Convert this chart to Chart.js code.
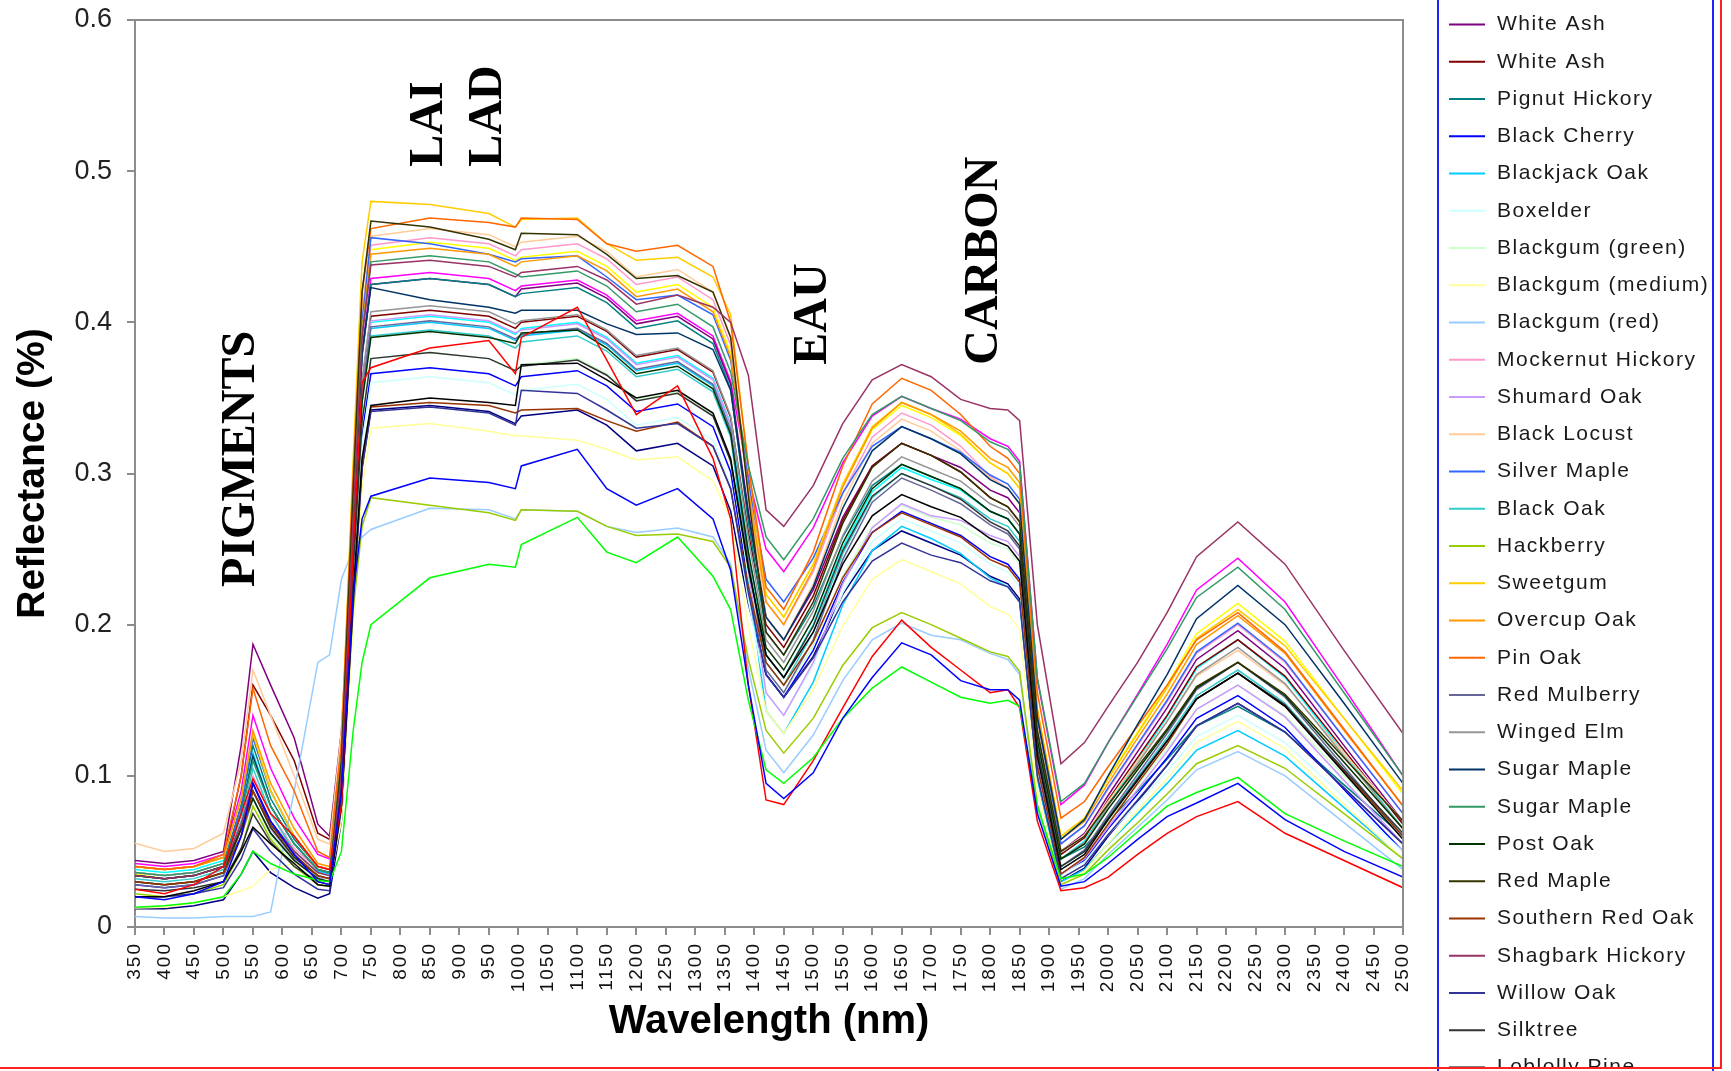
<!DOCTYPE html>
<html>
<head>
<meta charset="utf-8">
<script src="https://cdn.jsdelivr.net/npm/chart.js@4.4.0/dist/chart.umd.min.js"></script>
<style>
  html, body { margin: 0; padding: 0; background: #fff; }
  #wrap { width: 1731px; height: 1071px; }
</style>
</head>
<body>
<div id="wrap"><canvas id="myChart" width="1731" height="1071"></canvas></div>
<script>
const wavelengths = [350, 400, 450, 500, 530, 550, 580, 620, 660, 680,
  700, 720, 735, 750, 850, 950, 995, 1005, 1100, 1150,
  1200, 1270, 1330, 1360, 1390, 1420, 1450, 1500, 1550, 1600, 1650,
  1700, 1750, 1800, 1830, 1850, 1880, 1920, 1960, 2000, 2050,
  2100, 2150, 2220, 2300, 2400, 2500];

const xTicks = {min: 350, max: 2500, step: 50};
const yTicks = {min: 0, max: 0.6, step: 0.1};

// reflectance curves, one per legend entry (entries above / below the visible legend have no readable name)
const hiddenNavy = [.012,.012,.014,.018,.035,.05,.036,.026,.019,.022,
  .07,.214,.304,.342,.345,.341,.333,.338,.342,.332,
  .315,.32,.305,.275,.214,.167,.152,.179,.22,.249,.262,
  .254,.246,.232,.227,.217,.099,.03,.039,.06,.083,
  .107,.133,.148,.129,.092,.055];
const hiddenMagenta = [.042,.04,.042,.048,.09,.14,.105,.072,.048,.045,
  .11,.268,.381,.429,.433,.429,.421,.424,.428,.418,
  .401,.406,.391,.361,.298,.25,.235,.264,.307,.338,.351,
  .343,.336,.323,.318,.308,.164,.081,.094,.122,.154,
  .187,.223,.244,.215,.158,.10];
const hiddenYellow = [.035,.032,.034,.04,.08,.125,.09,.06,.04,.038,
  .10,.281,.399,.448,.453,.449,.441,.443,.447,.437,
  .42,.425,.41,.38,.293,.22,.205,.24,.292,.329,.345,
  .337,.325,.307,.30,.29,.144,.06,.072,.099,.129,
  .16,.194,.214,.189,.138,.088];
const hiddenCyan = [.038,.036,.038,.044,.075,.11,.08,.055,.038,.036,
  .10,.25,.356,.40,.404,.40,.392,.396,.40,.39,
  .373,.378,.363,.333,.249,.18,.165,.20,.251,.288,.304,
  .296,.289,.275,.27,.26,.124,.045,.057,.081,.11,
  .139,.171,.19,.165,.115,.065];
const whiteAsh1 = [.044,.042,.044,.05,.12,.187,.16,.125,.068,.06,
  .13,.266,.378,.425,.429,.425,.417,.422,.426,.416,
  .399,.404,.389,.359,.275,.205,.19,.223,.271,.305,.32,
  .312,.304,.289,.284,.274,.132,.05,.062,.087,.116,
  .145,.177,.196,.171,.12,.07];
const whiteAsh2 = [.04,.038,.04,.046,.10,.16,.14,.11,.062,.058,
  .12,.253,.359,.404,.408,.404,.396,.40,.404,.394,
  .377,.382,.367,.337,.261,.20,.185,.219,.269,.305,.32,
  .312,.301,.284,.278,.268,.129,.048,.059,.084,.112,
  .14,.172,.19,.166,.117,.068];
const pignutHickory = [.036,.034,.036,.042,.08,.12,.085,.058,.04,.038,
  .10,.266,.378,.425,.429,.425,.417,.419,.423,.413,
  .396,.401,.386,.356,.268,.195,.18,.212,.258,.292,.306,
  .298,.29,.275,.27,.26,.124,.045,.053,.07,.09,
  .111,.133,.146,.129,.094,.06];
const blackCherry = [.028,.026,.028,.034,.065,.095,.068,.048,.033,.032,
  .09,.229,.326,.366,.37,.366,.358,.364,.368,.358,
  .341,.346,.331,.301,.227,.167,.152,.183,.228,.261,.275,
  .267,.259,.245,.24,.23,.107,.035,.044,.065,.088,
  .112,.138,.153,.132,.091,.05];
const blackjackOak = [.034,.032,.034,.04,.075,.115,.08,.055,.037,.035,
  .09,.248,.352,.396,.40,.396,.388,.391,.395,.385,
  .368,.373,.358,.328,.228,.143,.128,.162,.213,.249,.265,
  .257,.247,.231,.225,.215,.098,.03,.038,.055,.075,
  .095,.117,.13,.113,.079,.045];
const boxelder = [.03,.028,.03,.036,.065,.09,.065,.045,.032,.03,
  .09,.226,.32,.36,.364,.36,.352,.355,.359,.349,
  .332,.337,.322,.292,.216,.155,.14,.173,.221,.255,.27,
  .262,.254,.24,.235,.225,.105,.035,.043,.061,.082,
  .103,.126,.14,.122,.086,.05];
const blackgumGreen = [.03,.028,.03,.035,.06,.085,.06,.042,.03,.03,
  .09,.236,.334,.376,.38,.376,.368,.372,.376,.366,
  .349,.354,.339,.309,.232,.17,.155,.186,.232,.265,.279,
  .271,.266,.254,.25,.24,.114,.04,.05,.07,.094,
  .118,.144,.16,.14,.10,.06];
const blackgumMedium = [.0125,.013,.016,.02,.024,.027,.038,.042,.035,.03,
  .07,.20,.29,.33,.333,.328,.325,.325,.322,.316,
  .309,.311,.295,.27,.199,.143,.128,.157,.199,.23,.243,
  .235,.227,.212,.207,.197,.091,.028,.037,.055,.077,
  .098,.122,.136,.118,.081,.045];
const blackgumRed = [.007,.006,.006,.007,.007,.007,.01,.09,.175,.18,
  .23,.25,.258,.263,.277,.276,.27,.276,.275,.265,
  .261,.264,.258,.24,.171,.117,.102,.127,.163,.19,.201,
  .193,.19,.181,.177,.167,.078,.025,.032,.048,.066,
  .084,.104,.116,.10,.069,.038];
const mockernutHickory = [.036,.034,.036,.042,.07,.10,.075,.052,.038,.036,
  .11,.283,.401,.451,.456,.452,.444,.448,.452,.442,
  .425,.43,.415,.385,.293,.215,.20,.235,.287,.324,.34,
  .332,.318,.298,.29,.28,.137,.055,.067,.091,.12,
  .149,.181,.20,.175,.125,.075];
const shumardOak = [.03,.028,.03,.036,.06,.09,.065,.045,.033,.032,
  .09,.251,.356,.401,.405,.401,.393,.395,.399,.389,
  .372,.377,.362,.332,.236,.155,.14,.175,.227,.264,.28,
  .272,.269,.259,.255,.245,.112,.035,.045,.066,.091,
  .116,.144,.16,.139,.097,.055];
const blackLocust = [.0555,.05,.052,.062,.11,.17,.14,.10,.058,.055,
  .13,.286,.407,.457,.462,.458,.45,.453,.457,.447,
  .43,.435,.42,.39,.29,.205,.19,.227,.281,.32,.336,
  .328,.315,.297,.29,.28,.134,.05,.061,.083,.11,
  .136,.166,.183,.16,.115,.07];
const silverMaple = [.034,.032,.034,.04,.08,.125,.09,.06,.04,.038,
  .11,.28,.40,.456,.452,.445,.44,.442,.444,.43,
  .415,.418,.405,.375,.295,.23,.215,.244,.287,.318,.331,
  .323,.314,.299,.293,.283,.138,.055,.067,.092,.121,
  .15,.182,.201,.176,.125,.075];
const blackOak = [.032,.03,.032,.038,.07,.105,.075,.05,.036,.034,
  .10,.245,.348,.391,.395,.391,.383,.387,.391,.381,
  .364,.369,.354,.324,.242,.175,.16,.195,.247,.284,.30,
  .292,.284,.27,.265,.255,.119,.04,.05,.073,.099,
  .125,.153,.17,.148,.104,.06];
const hackberry = [.022,.02,.022,.028,.05,.08,.058,.04,.028,.027,
  .09,.21,.265,.284,.279,.274,.269,.276,.275,.265,
  .259,.26,.255,.238,.177,.13,.115,.138,.173,.198,.208,
  .20,.191,.182,.179,.169,.081,.028,.035,.051,.069,
  .088,.108,.12,.105,.075,.045];
const sweetgum = [.04,.038,.04,.046,.085,.128,.09,.06,.04,.038,
  .12,.31,.44,.48,.478,.472,.463,.468,.469,.452,
  .441,.443,.43,.405,.305,.22,.205,.24,.293,.331,.347,
  .339,.326,.307,.30,.29,.144,.06,.072,.098,.128,
  .158,.191,.21,.186,.138,.09];
const overcupOak = [.04,.038,.04,.046,.085,.13,.095,.065,.042,.04,
  .12,.278,.395,.445,.449,.445,.437,.44,.444,.434,
  .417,.422,.407,.377,.289,.215,.20,.237,.291,.33,.347,
  .339,.328,.31,.304,.294,.144,.058,.07,.095,.125,
  .154,.187,.206,.181,.13,.08];
const pinOak = [.04,.038,.04,.048,.10,.158,.12,.09,.05,.046,
  .12,.30,.42,.462,.469,.466,.463,.469,.468,.452,
  .447,.451,.437,.40,.305,.225,.21,.248,.305,.346,.363,
  .355,.339,.318,.31,.30,.155,.072,.083,.106,.133,
  .16,.19,.208,.182,.131,.08];
const redMulberry = [.028,.026,.028,.034,.06,.085,.062,.044,.032,.03,
  .09,.249,.353,.397,.401,.397,.389,.392,.396,.386,
  .369,.374,.359,.329,.242,.17,.155,.19,.243,.281,.297,
  .289,.28,.266,.26,.25,.117,.04,.051,.074,.101,
  .128,.157,.175,.152,.106,.06];
const wingedElm = [.03,.028,.03,.036,.065,.09,.066,.046,.034,.032,
  .10,.255,.362,.407,.411,.407,.399,.401,.405,.395,
  .378,.383,.368,.338,.257,.19,.175,.209,.259,.295,.311,
  .303,.295,.28,.275,.265,.126,.045,.056,.08,.108,
  .136,.167,.185,.161,.113,.065];
const sugarMaple1 = [.034,.032,.034,.04,.075,.113,.08,.055,.038,.036,
  .10,.265,.38,.423,.415,.41,.406,.408,.408,.399,
  .392,.393,.382,.355,.273,.205,.19,.225,.277,.315,.331,
  .323,.313,.296,.29,.28,.139,.058,.071,.10,.134,
  .167,.204,.226,.20,.148,.095];
const sugarMaple2 = [.036,.034,.036,.042,.075,.11,.08,.055,.038,.036,
  .11,.275,.391,.44,.444,.44,.432,.43,.434,.424,
  .407,.412,.397,.367,.305,.258,.243,.27,.31,.339,.351,
  .343,.335,.321,.316,.306,.165,.083,.095,.122,.153,
  .184,.218,.238,.21,.155,.10];
const postOak = [.03,.028,.03,.036,.065,.085,.062,.044,.032,.03,
  .09,.244,.347,.39,.394,.39,.386,.393,.395,.383,
  .366,.371,.356,.326,.248,.185,.17,.204,.254,.29,.306,
  .298,.29,.275,.27,.26,.124,.045,.055,.078,.104,
  .13,.158,.175,.153,.109,.065];
const redMaple = [.034,.032,.034,.04,.065,.09,.066,.046,.034,.032,
  .11,.29,.42,.467,.463,.455,.448,.459,.458,.445,
  .429,.431,.42,.39,.285,.195,.18,.215,.267,.304,.32,
  .312,.301,.284,.278,.268,.13,.05,.06,.081,.106,
  .131,.159,.175,.154,.112,.07];
const southernRedOak = [.03,.028,.03,.036,.06,.09,.068,.048,.034,.032,
  .08,.215,.305,.344,.347,.345,.34,.342,.343,.335,
  .328,.334,.318,.29,.225,.175,.16,.189,.231,.261,.274,
  .266,.258,.243,.238,.228,.106,.035,.046,.068,.095,
  .121,.151,.168,.146,.103,.06];
const shagbarkHickory = [.034,.032,.034,.04,.068,.095,.07,.05,.036,.034,
  .10,.27,.39,.438,.441,.437,.43,.433,.437,.428,
  .412,.418,.41,.40,.365,.276,.265,.292,.333,.362,.372,
  .364,.349,.343,.342,.335,.20,.108,.122,.146,.175,
  .208,.245,.268,.24,.183,.128];
const willowOak = [.02,.02,.022,.026,.045,.065,.05,.035,.025,.024,
  .08,.214,.303,.341,.344,.34,.332,.355,.353,.342,
  .33,.333,.318,.29,.221,.167,.152,.178,.215,.242,.254,
  .246,.241,.229,.225,.215,.10,.032,.041,.061,.084,
  .107,.133,.148,.129,.092,.055];
const silktree = [.025,.024,.026,.03,.052,.075,.056,.04,.03,.028,
  .09,.236,.334,.376,.38,.376,.368,.371,.375,.365,
  .348,.353,.338,.308,.237,.18,.165,.199,.249,.285,.30,
  .292,.283,.268,.262,.252,.118,.04,.05,.072,.098,
  .123,.151,.168,.147,.104,.062];
const loblollyPine = [.02,.02,.024,.03,.05,.066,.055,.042,.028,.027,
  .08,.22,.31,.345,.35,.347,.345,.372,.373,.362,
  .35,.355,.34,.31,.238,.18,.165,.195,.24,.272,.286,
  .278,.271,.257,.252,.242,.113,.038,.048,.071,.097,
  .123,.151,.168,.146,.102,.058];
const hiddenRed = [.025,.022,.028,.04,.075,.098,.075,.06,.04,.038,
  .08,.25,.36,.37,.383,.388,.366,.39,.41,.375,
  .339,.358,.31,.27,.16,.084,.081,.11,.145,.179,.203,
  .185,.17,.155,.157,.145,.07,.024,.026,.033,.048,
  .062,.073,.083,.062,.044,.026];
const hiddenGreen = [.013,.014,.016,.02,.035,.05,.042,.035,.031,.03,
  .05,.13,.175,.20,.231,.24,.238,.253,.271,.248,
  .241,.258,.232,.21,.15,.104,.095,.112,.138,.158,.172,
  .162,.152,.148,.15,.146,.08,.032,.035,.046,.063,
  .08,.089,.099,.075,.057,.04];
const hiddenBlue = [.02,.018,.022,.03,.06,.095,.07,.048,.03,.028,
  .09,.22,.27,.285,.297,.294,.29,.305,.316,.29,
  .279,.29,.27,.236,.16,.095,.085,.102,.138,.165,.188,
  .18,.163,.157,.157,.15,.075,.027,.03,.042,.058,
  .073,.082,.095,.071,.05,.033];

const seriesValues = [hiddenNavy, hiddenMagenta, hiddenYellow, hiddenCyan,
  whiteAsh1, whiteAsh2, pignutHickory, blackCherry, blackjackOak, boxelder,
  blackgumGreen, blackgumMedium, blackgumRed, mockernutHickory, shumardOak,
  blackLocust, silverMaple, blackOak, hackberry, sweetgum, overcupOak, pinOak,
  redMulberry, wingedElm, sugarMaple1, sugarMaple2, postOak, redMaple,
  southernRedOak, shagbarkHickory, willowOak, silktree, loblollyPine,
  hiddenRed, hiddenGreen, hiddenBlue];

const seriesNames = ['', '', '', '',
  'White Ash', 'White Ash', 'Pignut Hickory', 'Black Cherry', 'Blackjack Oak', 'Boxelder',
  'Blackgum (green)', 'Blackgum (medium)', 'Blackgum (red)', 'Mockernut Hickory', 'Shumard Oak',
  'Black Locust', 'Silver Maple', 'Black Oak', 'Hackberry', 'Sweetgum', 'Overcup Oak', 'Pin Oak',
  'Red Mulberry', 'Winged Elm', 'Sugar Maple', 'Sugar Maple', 'Post Oak', 'Red Maple',
  'Southern Red Oak', 'Shagbark Hickory', 'Willow Oak', 'Silktree', 'Loblolly Pine',
  '', '', ''];

const seriesColors = ['#000080', '#ff00ff', '#ffff00', '#00ffff',
  '#800080', '#800000', '#008080', '#0000ff', '#00ccff', '#ccffff',
  '#ccffcc', '#ffff99', '#99ccff', '#ff99cc', '#cc99ff',
  '#ffcc99', '#3366ff', '#33cccc', '#99cc00', '#ffcc00', '#ff9900', '#ff6600',
  '#666699', '#969696', '#003366', '#339966', '#003300', '#333300',
  '#993300', '#993366', '#333399', '#333333', '#000000',
  '#ff0000', '#00ff00', '#0000ff'];

// band labels written over the plot
const bandLabels = ['PIGMENTS', 'LAI', 'LAD', 'EAU', 'CARBON'];
const bandWavelength = [530, 850, 950, 1500, 1790];
const bandValue = [0.225, 0.503, 0.503, 0.372, 0.372];

const sans = '"Liberation Sans", Arial, sans-serif';
const axisGray = '#8c8c8c';

// x labels in the picture are drawn with wide letter spacing
class SpacedLinearScale extends Chart.LinearScale {
  drawLabels(area) {
    const ctx = this.ctx;
    ctx.save();
    ctx.letterSpacing = '2px';
    super.drawLabels(area);
    ctx.restore();
  }
}
SpacedLinearScale.id = 'spacedLinear';
SpacedLinearScale.defaults = Chart.LinearScale.defaults;
Chart.register(SpacedLinearScale);

let datasets = seriesValues.map(function (vals, i) {
  return {
    label: seriesNames[i],
    data: wavelengths.map((w, k) => ({x: w, y: vals[k]})),
    borderColor: seriesColors[i],
    backgroundColor: seriesColors[i],
    borderWidth: 1.5,
    pointRadius: 0,
    tension: 0,
    order: -i
  };
});

const extras = {
  id: 'extras',
  afterDraw(chart) {
    const ctx = chart.ctx;
    const a = chart.chartArea;
    const xs = chart.scales.x, ys = chart.scales.y;
    ctx.save();
    // top and right edges of the plot box
    ctx.strokeStyle = axisGray;
    ctx.lineWidth = 2;
    ctx.beginPath();
    ctx.moveTo(a.left, a.top);
    ctx.lineTo(a.right, a.top);
    ctx.lineTo(a.right, a.bottom);
    ctx.stroke();

    // band labels, rotated, reading bottom to top
    ctx.fillStyle = '#000';
    ctx.font = 'bold 48px "Liberation Serif", "Times New Roman", serif';
    ctx.textAlign = 'left';
    ctx.textBaseline = 'middle';
    bandLabels.forEach(function (t, i) {
      ctx.save();
      ctx.translate(xs.getPixelForValue(bandWavelength[i]), ys.getPixelForValue(bandValue[i]));
      ctx.rotate(-Math.PI / 2);
      ctx.fillText(t, 0, 0);
      ctx.restore();
    });

    // legend box, cut by the picture edges
    const boxL = 1438, boxR = 1713;
    ctx.save();
    ctx.beginPath();
    ctx.rect(boxL, 0, boxR - boxL, 1067);
    ctx.clip();
    ctx.font = '21px ' + sans;
    ctx.letterSpacing = '1.5px';
    ctx.textBaseline = 'middle';
    ctx.fillStyle = '#1a1a1a';
    chart.data.datasets.forEach(function (ds, i) {
      if (!ds.label) return;
      const y = 24.5 + (i - 4) * 37.25;
      ctx.strokeStyle = ds.borderColor;
      ctx.lineWidth = 2;
      ctx.beginPath();
      ctx.moveTo(1449, y);
      ctx.lineTo(1485, y);
      ctx.stroke();
      ctx.fillText(ds.label, 1497, y);
    });
    ctx.restore();
    ctx.strokeStyle = '#2222ff';
    ctx.lineWidth = 2;
    ctx.strokeRect(boxL, -10, boxR - boxL, 1100);

    // red outer frame (right and bottom)
    ctx.strokeStyle = '#ff2020';
    ctx.beginPath();
    ctx.moveTo(1721, 0);
    ctx.lineTo(1721, 1068);
    ctx.lineTo(0, 1068);
    ctx.stroke();
    ctx.restore();
  }
};

var ctx = document.getElementById('myChart').getContext('2d');
var chart = new Chart(ctx, {
  type: 'line',
  data: {datasets: datasets},
  options: {
    responsive: false,
    animation: false,
    devicePixelRatio: 1,
    layout: {padding: {top: 20, right: 328, bottom: 0, left: 0}},
    plugins: {legend: {display: false}, tooltip: {enabled: false}},
    scales: {
      x: {
        type: 'spacedLinear',
        min: xTicks.min,
        max: xTicks.max,
        ticks: {
          stepSize: xTicks.step,
          autoSkip: false,
          minRotation: 90,
          maxRotation: 90,
          padding: 7,
          color: '#111',
          font: {family: sans, size: 19},
          callback: v => String(v)
        },
        grid: {drawOnChartArea: false, drawTicks: true, tickLength: 8, color: axisGray, lineWidth: 2},
        border: {color: axisGray, width: 2},
        title: {
          display: true,
          text: 'Wavelength (nm)',
          color: '#000',
          font: {family: sans, size: 40, weight: 'bold'},
          padding: {top: 0, bottom: 25}
        },
        afterFit: function (s) { s.height = 144; s.paddingLeft = 0; s.paddingRight = 0; }
      },
      y: {
        min: yTicks.min,
        max: yTicks.max,
        ticks: {
          stepSize: yTicks.step,
          padding: 15,
          color: '#222',
          font: {family: sans, size: 27},
          callback: v => (v === 0 ? '0' : v.toFixed(1))
        },
        grid: {drawOnChartArea: false, drawTicks: true, tickLength: 8, color: axisGray, lineWidth: 2},
        border: {color: axisGray, width: 2},
        title: {
          display: true,
          text: 'Reflectance (%)',
          color: '#000',
          font: {family: sans, size: 39, weight: 'bold'},
          padding: {top: 10, bottom: 0}
        },
        afterFit: function (s) { s.width = 135; s.paddingTop = 0; s.paddingBottom = 0; }
      }
    }
  },
  plugins: [extras]
});
</script>
</body>
</html>
